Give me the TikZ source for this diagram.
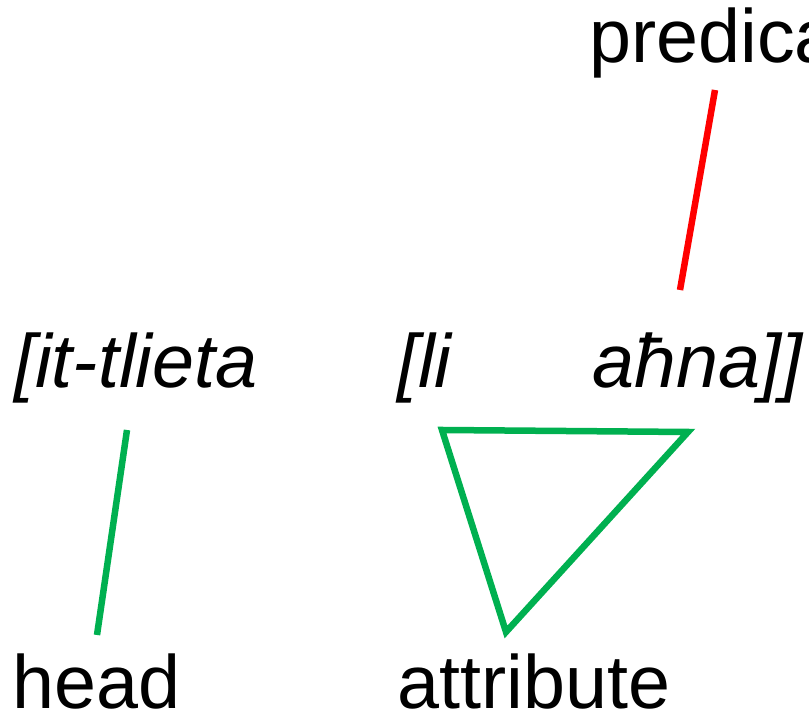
\documentclass[tikz,border=0pt]{standalone}
\usepackage{fontspec}
\setmainfont{Liberation Sans}
\definecolor{linkgreen}{HTML}{00B050}
\begin{document}
\begin{tikzpicture}[x=1pt,y=1pt,
  word/.style={anchor=base west,inner sep=0pt,font=\fontsize{75.5}{80}\selectfont},
  form/.style={word,font=\fontsize{75.5}{80}\selectfont\itshape},
  redlink/.style={draw=red,line width=6.5pt},
  greenlink/.style={draw=linkgreen,line width=6.5pt,line join=miter}]
\useasboundingbox (0,0) rectangle (809,714);
\clip (0,0) rectangle (809,714);
% labels and word forms
\node[word] (pred) at (589,651) {predicate};
\node[form] (w1) at (14,326) {[it-tlieta};
\node[form] (w2) at (397,326) {[li};
\node[form] (w3) at (592,326) {aħna]]};
\node[word] (head) at (12,5) {head};
\node[word] (attr) at (397,5) {attribute};
% link end points
\coordinate (p1) at (715,624);
\coordinate (p2) at (680,424);
\coordinate (h1) at (127,284);
\coordinate (h2) at (97,79);
\coordinate (t1) at (442,284);
\coordinate (t2) at (688,282);
\coordinate (t3) at (506,82);
% links
\draw[redlink] (p1) -- (p2);
\draw[greenlink] (h1) -- (h2);
\draw[greenlink] (t1) -- (t2) -- (t3) -- cycle;
\end{tikzpicture}
\end{document}
